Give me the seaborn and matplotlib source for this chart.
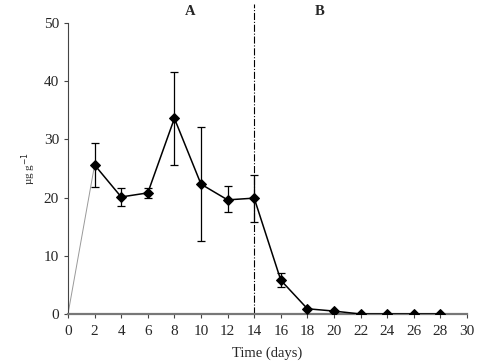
import pandas as pd
import seaborn as sns
import matplotlib.pyplot as plt
import numpy as np

# data
days = [2, 4, 6, 8, 10, 12, 14, 16, 18, 20, 22, 24, 26, 28]
conc = [25.6, 20.1, 20.8, 33.6, 22.3, 19.6, 19.9, 5.8, 0.9, 0.5, 0.0, 0.0, 0.0, 0.0]
err_up = [3.8, 1.5, 0.8, 7.9, 9.8, 2.3, 4.0, 1.3, 0.0, 0.0, 0.0, 0.0, 0.0, 0.0]
err_down = [3.8, 1.5, 0.8, 8.0, 9.8, 2.1, 4.1, 1.1, 0.0, 0.0, 0.0, 0.0, 0.0, 0.0]
start_days = [0, 2]
start_conc = [0.0, 25.6]

df = pd.DataFrame({"day": days, "conc": conc})
start = pd.DataFrame({"day": start_days, "conc": start_conc})

sns.set_style("ticks")
plt.rcParams["font.family"] = ["Liberation Serif", "DejaVu Serif"]

fig = plt.figure(figsize=(5, 3.63), dpi=100)
ax = fig.add_axes([0.136, 0.135, 0.798, 0.802])

# thin line from origin to first sample
sns.lineplot(data=start, x="day", y="conc", ax=ax, color="#999999", linewidth=0.7)
ax.errorbar(days, conc, yerr=[err_down, err_up], fmt="none", ecolor="black",
            elinewidth=0.9, capsize=3, capthick=0.9, zorder=3)
sns.lineplot(data=df, x="day", y="conc", ax=ax, color="black", linewidth=1.1,
             marker="D", markersize=5.5, markeredgecolor="black", zorder=4)

ax.plot([14, 14], [0, 53.3], color="black", linestyle="-.", linewidth=0.8, clip_on=False)
ax.text(9.2, 51.9, "A", ha="center", va="center", fontsize=10.5, fontweight="bold")
ax.text(18.9, 51.9, "B", ha="center", va="center", fontsize=10.5, fontweight="bold")

ax.set_xlim(0, 30)
ax.set_ylim(0, 50)
ax.set_xticks(np.arange(0, 31, 2))
ax.set_yticks(np.arange(0, 51, 10))
ax.tick_params(labelsize=11, length=3, width=0.8, color="#444444")
ax.tick_params(axis="x", pad=5)
for s in ["top", "right"]:
    ax.spines[s].set_visible(False)
ax.spines["left"].set_color("#444444")
ax.spines["bottom"].set_color("#777777")
ax.spines["bottom"].set_linewidth(1.6)
ax.set_xlabel("Time (days)", fontsize=10.5, labelpad=6)
ax.set_ylabel("µg g$^{-1}$", fontsize=8, labelpad=4)

fig.savefig("out.png", dpi=100)
